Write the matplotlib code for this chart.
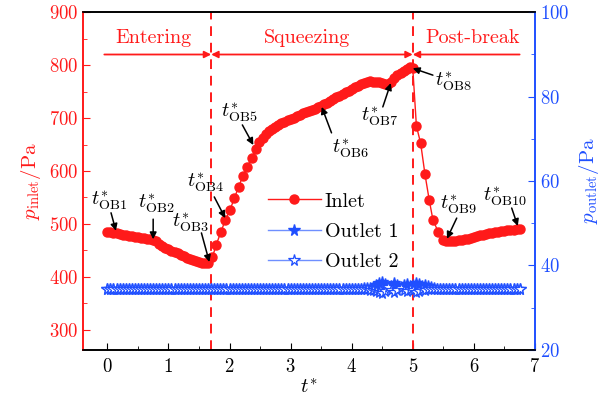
import matplotlib
matplotlib.use('Agg')
import matplotlib.pyplot as plt
from matplotlib.ticker import MultipleLocator

plt.rcParams['font.family'] = 'serif'
plt.rcParams['font.serif'] = ['cmr10']
plt.rcParams['mathtext.fontset'] = 'cm'
plt.rcParams['axes.formatter.use_mathtext'] = True

RED = '#ff1a1a'
BLUE = '#1f4fff'
LBLUE = '#6f8fff'

# inlet pressure (Pa)
t_inlet = [0.00, 0.05, 0.10, 0.15, 0.20, 0.25, 0.30, 0.35, 0.40, 0.45,
           0.50, 0.55, 0.60, 0.65, 0.70, 0.75, 0.80, 0.85, 0.90, 0.95,
           1.00, 1.05, 1.10, 1.15, 1.20, 1.25, 1.30, 1.35, 1.40, 1.45,
           1.50, 1.55, 1.60, 1.65,
           1.72, 1.78, 1.86, 1.93, 2.01, 2.08, 2.15, 2.22, 2.29, 2.36,
           2.43, 2.49,
           2.55, 2.60, 2.65, 2.70, 2.75, 2.80, 2.85, 2.90, 2.95, 3.00,
           3.05, 3.10, 3.15, 3.20, 3.25, 3.30, 3.35, 3.40, 3.45, 3.50,
           3.55, 3.60, 3.65, 3.70, 3.75, 3.80, 3.85, 3.90, 3.95, 4.00,
           4.05, 4.10, 4.15, 4.20, 4.25, 4.30, 4.35, 4.40, 4.45, 4.50,
           4.55, 4.60, 4.65, 4.70, 4.75, 4.80, 4.85, 4.90, 4.95, 5.00,
           5.06, 5.13, 5.20, 5.27, 5.33, 5.42,
           5.50, 5.55, 5.60, 5.65, 5.70, 5.75, 5.80, 5.85, 5.90, 5.95,
           6.00, 6.05, 6.10, 6.15, 6.20, 6.25, 6.30, 6.35, 6.40, 6.45,
           6.50, 6.55, 6.60, 6.65, 6.70, 6.75]
p_inlet = [485, 484, 483, 482, 481, 480, 479, 478, 477, 476,
           475, 474, 473, 472, 471, 470, 467, 463, 459, 455,
           452, 449, 447, 445, 442, 439, 436, 434, 432, 430,
           428, 427, 426, 427,
           437, 460, 485, 507, 527, 549, 570, 591, 608, 624,
           641, 655,
           663, 670, 675, 679, 683, 687, 690, 693, 696, 699,
           701, 704, 706, 709, 711, 713, 715, 717, 720, 723,
           726, 729, 732, 736, 739, 742, 746, 749, 752, 755,
           758, 761, 764, 767, 769, 770, 769, 768, 768, 767,
           765, 764, 768, 776, 781, 785, 789, 793, 796, 795,
           685, 652, 594, 545, 508, 484,
           470, 468, 467, 467, 468, 469, 470, 471, 472, 474,
           476, 478, 479, 480, 481, 482, 483, 484, 485, 486,
           487, 488, 489, 489, 490, 490]

# outlet pressure (Pa), sampled every 0.05 from 0 to 6.75
t_outlet = [i / 20 for i in range(136)]
p_outlet1 = [34.5, 34.5, 34.5, 34.5, 34.5, 34.5, 34.5, 34.5, 34.5, 34.5,
             34.5, 34.5, 34.5, 34.5, 34.5, 34.5, 34.5, 34.5, 34.5, 34.5,
             34.5, 34.5, 34.5, 34.5, 34.5, 34.5, 34.5, 34.5, 34.5, 34.5,
             34.5, 34.5, 34.5, 34.5, 34.5, 34.5, 34.5, 34.5, 34.5, 34.5,
             34.5, 34.5, 34.5, 34.5, 34.5, 34.5, 34.5, 34.5, 34.5, 34.5,
             34.5, 34.5, 34.5, 34.5, 34.5, 34.5, 34.5, 34.5, 34.5, 34.5,
             34.5, 34.5, 34.5, 34.5, 34.5, 34.5, 34.5, 34.5, 34.5, 34.5,
             34.5, 34.5, 34.5, 34.5, 34.5, 34.5, 34.5, 34.5, 34.5, 34.5,
             34.5, 34.5, 34.5, 34.5, 34.6, 34.6, 34.7, 34.8, 35.3, 35.9,
             36.2, 35.5, 34.6, 35.2, 35.9, 35.4, 35.0, 35.3, 35.6, 35.1,
             35.4, 35.9, 35.6, 35.2, 35.4, 35.1, 34.8, 34.6, 34.5, 34.5,
             34.5, 34.5, 34.5, 34.5, 34.5, 34.5, 34.5, 34.5, 34.5, 34.5,
             34.5, 34.5, 34.5, 34.5, 34.5, 34.5, 34.5, 34.5, 34.5, 34.5,
             34.5, 34.5, 34.5, 34.5, 34.5, 34.5]
p_outlet2 = [34.5, 34.5, 34.5, 34.5, 34.5, 34.5, 34.5, 34.5, 34.5, 34.5,
             34.5, 34.5, 34.5, 34.5, 34.5, 34.5, 34.5, 34.5, 34.5, 34.5,
             34.5, 34.5, 34.5, 34.5, 34.5, 34.5, 34.5, 34.5, 34.5, 34.5,
             34.5, 34.5, 34.5, 34.5, 34.5, 34.5, 34.5, 34.5, 34.5, 34.5,
             34.5, 34.5, 34.5, 34.5, 34.5, 34.5, 34.5, 34.5, 34.5, 34.5,
             34.5, 34.5, 34.5, 34.5, 34.5, 34.5, 34.5, 34.5, 34.5, 34.5,
             34.5, 34.5, 34.5, 34.5, 34.5, 34.5, 34.5, 34.5, 34.5, 34.5,
             34.5, 34.5, 34.5, 34.5, 34.5, 34.5, 34.5, 34.5, 34.5, 34.5,
             34.5, 34.5, 34.5, 34.5, 34.4, 34.4, 34.3, 34.2, 34.0, 33.6,
             33.4, 34.0, 34.9, 34.2, 33.7, 34.3, 34.6, 34.2, 33.9, 34.4,
             34.1, 33.7, 34.0, 34.4, 34.1, 34.4, 34.5, 34.5, 34.5, 34.5,
             34.5, 34.5, 34.5, 34.5, 34.5, 34.5, 34.5, 34.5, 34.5, 34.5,
             34.5, 34.5, 34.5, 34.5, 34.5, 34.5, 34.5, 34.5, 34.5, 34.5,
             34.5, 34.5, 34.5, 34.5, 34.5, 34.5]

# stage boundaries and labels
t_bounds = [1.7, 5.0]
stage_names = ['Entering', 'Squeezing', 'Post-break']
stage_x = [0.75, 3.27, 5.98]

# observation points: label, arrow tip, arrow tail, text centre
ob_labels = ['OB1', 'OB2', 'OB3', 'OB4', 'OB5', 'OB6', 'OB7', 'OB8', 'OB9', 'OB10']
ob_tip_t = [0.14, 0.75, 1.67, 1.93, 2.39, 3.51, 4.64, 5.00, 5.56, 6.72]
ob_tip_p = [487, 471, 428, 511, 649, 721, 766, 794, 472, 496]
ob_tail_t = [0.06, 0.75, 1.54, 1.75, 2.21, 3.67, 4.51, 5.33, 5.72, 6.62]
ob_tail_p = [521, 509, 483, 551, 687, 672, 721, 781, 511, 530]
ob_txt_t = [0.03, 0.80, 1.36, 1.61, 2.16, 3.98, 4.46, 5.67, 5.74, 6.51]
ob_txt_p = [545, 540, 504, 579, 711, 643, 704, 770, 538, 553]

fig = plt.figure(figsize=(6.01, 4.05), dpi=100)
ax = fig.add_axes([0.138, 0.136, 0.752, 0.834])
ax2 = ax.twinx()

l1, = ax.plot(t_inlet, p_inlet, '-o', color=RED, lw=1, ms=6.5, label='Inlet', zorder=3)
l2, = ax2.plot(t_outlet, p_outlet1, '-*', color=LBLUE, lw=1, ms=8.5,
               mfc=BLUE, mec=BLUE, label='Outlet 1')
l3, = ax2.plot(t_outlet, p_outlet2, '-*', color=LBLUE, lw=1, ms=8.5,
               mfc='white', mec=BLUE, mew=0.9, label='Outlet 2')

ax.set_xlim(-0.4, 7)
ax.set_ylim(262, 900)
ax2.set_ylim(20, 100)

for tb in t_bounds:
    ax.axvline(tb, color=RED, ls=(0, (5, 3.5)), lw=1.4)

# stage arrows
y_arr = 820
arr = dict(color=RED, lw=1.3, shrinkA=0, shrinkB=0, mutation_scale=10)
ax.annotate('', xy=(t_bounds[0], y_arr), xytext=(-0.05, y_arr),
            arrowprops=dict(arrowstyle='-|>', **arr))
ax.annotate('', xy=(t_bounds[1], y_arr), xytext=(t_bounds[0], y_arr),
            arrowprops=dict(arrowstyle='<|-|>', **arr))
ax.annotate('', xy=(t_bounds[1], y_arr), xytext=(6.75, y_arr),
            arrowprops=dict(arrowstyle='-|>', **arr))
for name, sx in zip(stage_names, stage_x):
    ax.text(sx, 851, name, color=RED, fontsize=14.5, ha='center', va='center')

for i, lab in enumerate(ob_labels):
    ax.annotate('', xy=(ob_tip_t[i], ob_tip_p[i]), xytext=(ob_tail_t[i], ob_tail_p[i]),
                arrowprops=dict(arrowstyle='-|>', color='black', lw=1.1,
                                shrinkA=0, shrinkB=0, mutation_scale=10), zorder=5)
    ax.text(ob_txt_t[i], ob_txt_p[i], r'$t^{*}_{\rm %s}$' % lab, fontsize=14.5,
            ha='center', va='center', zorder=5)

ax.xaxis.set_major_locator(MultipleLocator(1))
ax.xaxis.set_minor_locator(MultipleLocator(0.5))
ax.yaxis.set_major_locator(MultipleLocator(100))
ax.yaxis.set_minor_locator(MultipleLocator(50))
ax2.yaxis.set_major_locator(MultipleLocator(20))
ax2.yaxis.set_minor_locator(MultipleLocator(10))

ax.tick_params(axis='x', which='both', direction='in', labelsize=13.5, top=False, pad=6)
ax.tick_params(axis='x', which='major', length=5)
ax.tick_params(axis='x', which='minor', length=3)
ax.tick_params(axis='y', which='both', direction='in', colors=RED, labelsize=13.5)
ax.tick_params(axis='y', which='major', length=5)
ax.tick_params(axis='y', which='minor', length=3)
ax2.tick_params(axis='y', which='both', direction='in', colors=BLUE, labelsize=13.5)
ax2.tick_params(axis='y', which='major', length=5)
ax2.tick_params(axis='y', which='minor', length=3)

ax2.spines['left'].set_color(RED)
ax2.spines['right'].set_color(BLUE)
ax.spines['left'].set_color(RED)
ax.spines['right'].set_color(BLUE)
for a in (ax, ax2):
    for s in a.spines.values():
        s.set_linewidth(1.2)

ax.set_xlabel(r'$t^{*}$', fontsize=15, labelpad=1)
ax.set_ylabel(r'$p_{\rm inlet}$/Pa', fontsize=15, color=RED, labelpad=4)
ax2.set_ylabel(r'$p_{\rm outlet}$/Pa', fontsize=15, color=BLUE, labelpad=6)

ax2.legend([l1, l2, l3], ['Inlet', 'Outlet 1', 'Outlet 2'], loc='upper left',
           bbox_to_anchor=(0.37, 0.52), frameon=False, fontsize=14.5,
           handlelength=2.6, handletextpad=0.2, labelspacing=0.6)

fig.savefig('out.png', dpi=100)
